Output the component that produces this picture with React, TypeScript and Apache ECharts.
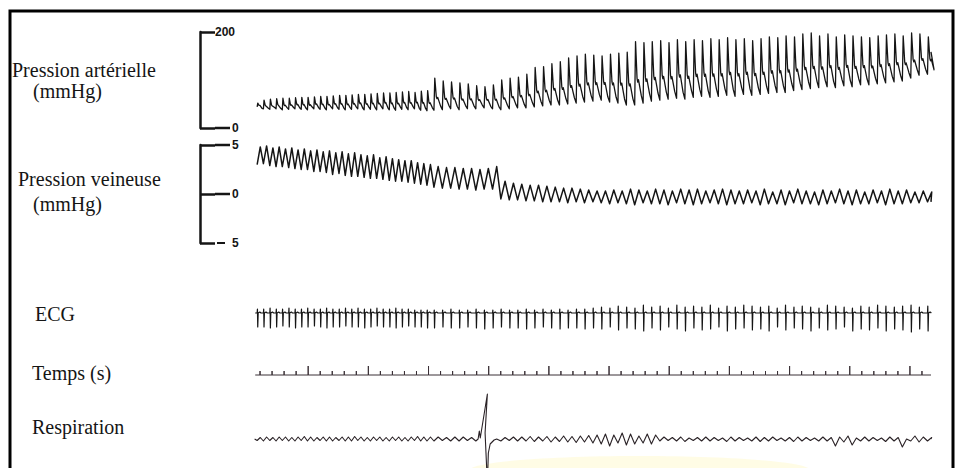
import React, { useEffect, useRef } from "react";
import * as echarts from "echarts";

// ---------- DATA (read from the recording) ----------
// Time axis in seconds (Temps track: small mark = 1 s, tall mark = 5 s)
const traceStart = 0.6;
const traceEnd = 56.75;
const timeMarks = [1,2,3,4,5,6,7,8,9,10,11,12,13,14,15,16,17,18,19,20,21,22,23,24,25,26,27,28,29,30,31,32,33,34,35,36,37,38,39,40,41,42,43,44,45,46,47,48,49,50,51,52,53,54,55,56];
const majorMarks = [5,10,15,20,25,30,35,40,45,50,55];
const smallMarkHeight = 4;
const majorMarkHeight = 9;

// Heart beat onsets (s)
const beatTimes = [
  0.76, 1.28, 1.81, 2.33, 2.85, 3.38, 3.90, 4.42, 4.94, 5.47, 5.99, 6.51, 7.03, 7.56, 8.08, 8.60, 9.12, 9.65, 10.17, 10.69, 11.21, 11.74, 12.26, 12.78, 13.30, 13.83, 14.35, 14.87,
  15.45, 16.15, 16.84, 17.54, 18.23, 18.93, 19.62, 20.32, 21.01, 21.71, 22.40, 23.10, 23.79, 24.49, 25.18, 25.88, 26.57, 27.27, 27.96, 28.66,
  29.35, 30.05, 30.74, 31.44, 32.13, 32.83, 33.52, 34.22, 34.91, 35.61, 36.30, 37.00, 37.69, 38.39, 39.08, 39.78, 40.47, 41.17, 41.86, 42.56,
  43.25, 43.95, 44.64, 45.34, 46.03, 46.73, 47.42, 48.12, 48.81, 49.51, 50.20, 50.90, 51.59, 52.29, 52.98, 53.68, 54.37, 55.07, 55.76, 56.46,
];

// Arterial pressure (mmHg), systolic / diastolic per beat
const arterialSys = [
  52, 58, 60, 61, 62, 62, 63, 64, 64, 65, 66, 66, 67, 68, 68, 69, 70, 70, 71, 72, 73, 73, 74, 75, 76, 74, 77, 78,
  104, 98, 96, 94, 92, 88, 86, 90, 100, 104, 106, 112, 126, 128, 134, 138, 146, 150, 154, 152,
  150, 154, 156, 158, 180, 178, 180, 182, 178, 184, 180, 184, 182, 186, 184, 188, 184, 186, 182, 186,
  190, 188, 192, 190, 196, 198, 192, 196, 190, 194, 192, 190, 188, 192, 194, 196, 192, 198, 196, 190,
];
const arterialDia = [
  44, 40, 39, 40, 38, 39, 40, 39, 38, 40, 39, 38, 40, 39, 38, 39, 40, 38, 39, 38, 40, 38, 37, 39, 38, 40, 37, 36,
  37, 38, 40, 38, 40, 40, 42, 40, 38, 40, 42, 42, 44, 46, 48, 48, 50, 52, 54, 56,
  58, 54, 52, 48, 48, 52, 56, 58, 60, 62, 60, 64, 66, 64, 66, 68, 66, 70, 68, 70,
  72, 74, 74, 78, 80, 82, 84, 86, 84, 88, 86, 90, 90, 92, 94, 96, 98, 104, 110, 112,
];

// Venous pressure (mmHg), high / low per beat
const venousHigh = [
  4.8, 4.9, 4.7, 4.8, 4.6, 4.7, 4.5, 4.6, 4.4, 4.5, 4.3, 4.4, 4.2, 4.3, 4.1, 4.2, 4.0, 3.9, 4.0, 3.7, 3.8, 3.6, 3.5, 3.4, 3.4, 3.2, 3.1, 3.0,
  2.8, 2.7, 2.7, 2.6, 2.6, 2.5, 2.6, 2.8, 1.3, 1.1, 1.0, 0.9, 0.9, 0.8, 0.7, 0.6, 0.6, 0.5, 0.4, 0.3,
  0.3, 0.4, 0.3, 0.5, 0.4, 0.3, 0.5, 0.4, 0.3, 0.5, 0.4, 0.5, 0.3, 0.4, 0.5, 0.4, 0.3, 0.4, 0.3, 0.5,
  0.2, 0.4, 0.3, 0.5, 0.3, 0.2, 0.4, 0.3, 0.5, 0.3, 0.4, 0.2, 0.4, 0.3, 0.5, 0.3, 0.4, 0.2, 0.3, 0.2,
];
const venousLow = [
  3.0, 3.1, 2.9, 2.8, 2.8, 2.7, 2.6, 2.5, 2.5, 2.3, 2.3, 2.2, 2.0, 2.1, 1.9, 1.8, 1.8, 1.7, 1.6, 1.6, 1.5, 1.4, 1.3, 1.3, 1.2, 1.1, 1.0, 0.9,
  0.7, 0.6, 0.6, 0.5, 0.5, 0.4, 0.5, 0.5, -0.5, -0.6, -0.6, -0.7, -0.7, -0.8, -0.8, -0.8, -0.9, -0.8, -0.9, -0.8,
  -0.9, -1.0, -0.9, -1.0, -1.1, -0.9, -1.0, -1.0, -1.1, -0.9, -1.0, -1.1, -1.0, -0.9, -1.0, -1.1, -1.0, -1.0, -0.9, -1.1,
  -1.0, -1.0, -1.1, -0.9, -1.0, -1.0, -1.1, -1.0, -0.9, -1.0, -1.1, -1.0, -1.0, -0.9, -1.1, -1.0, -1.0, -0.9, -0.9, -0.8,
];

// ECG deflections per beat (px-scaled units): R up, S down
const ecgR = [
  4, 4, 5, 4, 4, 5, 4, 4, 5, 4, 4, 5, 4, 4, 5, 4, 5, 4, 4, 5, 4, 4, 5, 4, 4, 3, 3, 3,
  3, 3, 4, 3, 3, 4, 3, 3, 4, 3, 3, 4, 3, 4, 3, 4, 3, 4, 4, 5,
  6, 5, 7, 6, 5, 8, 6, 7, 5, 8, 6, 7, 6, 8, 5, 7, 6, 8, 7, 6,
  7, 5, 8, 6, 7, 6, 5, 8, 7, 6, 5, 7, 6, 8, 7, 6, 7, 8, 6, 7,
];
const ecgS = [
  -14, -14, -15, -14, -13, -14, -15, -14, -14, -13, -14, -15, -14, -14, -13, -14, -14, -15, -14, -13, -14, -14, -15, -14, -13, -14, -14, -15,
  -15, -14, -15, -15, -14, -15, -16, -15, -14, -15, -15, -16, -15, -14, -15, -16, -15, -15, -16, -15,
  -16, -14, -17, -15, -16, -18, -15, -17, -14, -16, -18, -15, -17, -16, -14, -18, -16, -15, -17, -16,
  -18, -14, -17, -15, -16, -18, -15, -17, -16, -14, -18, -16, -17, -15, -18, -16, -17, -19, -16, -18,
];

// Respiration ripple per beat (px-scaled units)
const respHigh = [
  1.5, 2, 1.5, 2, 2, 1.5, 2, 2.5, 2, 1.5, 2, 2, 1.5, 2, 2, 2.5, 2, 1.5, 2, 2, 1.5, 2, 2, 1.5, 2, 2.5, 2, 2,
  2, 1.5, 2, 2, 1.5, 2, 0, 0, 1.5, 2, 2, 2.5, 2, 2.5, 2, 3, 2.5, 3, 3.5, 4,
  5, 4, 6, 5, 3, 5, 4, 2, 1.5, 2, 1, 1.5, 2, 1.5, 1, 2, 1.5, 1, 2, 1.5,
  2, 1, 1.5, 2, 1.5, 1, 2, 1.5, 2, 3, 1, 2, 1.5, 1, 2, 1.5, 0, 3, 2, 1.5,
];
const respLow = [
  -1.5, -2, -1.5, -2, -1.5, -2, -2, -1.5, -2, -2, -1.5, -2, -2, -1.5, -2, -2, -1.5, -2, -2, -1.5, -2, -2, -1.5, -2, -2, -1.5, -2, -2,
  -2, -1.5, -2, -2, -1.5, -2, 0, 0, -2, -1.5, -2, -2, -2.5, -2, -3, -2.5, -3, -3.5, -3, -4,
  -5, -7, -4, -6, -5, -4, -5, -2, -1.5, -2, -2.5, -1.5, -2, -2, -1.5, -2.5, -2, -1.5, -2, -2.5,
  -2, -1.5, -2, -2.5, -2, -1.5, -2, -2, -7, -3, -6, -2, -2, -1.5, -2.5, -2, -8, -2, -3, -2,
];
// Large respiratory artefact (pen excursion)
const respEventTimes = [19.12, 19.22, 19.30, 19.89, 19.70, 19.89, 19.97, 20.12, 20.45];
const respEventValues = [0, 8, 1, 45, 6, -45, -14, -5, -1];

// Labels
const trackLabels = ["Pression artérielle", "(mmHg)", "Pression veineuse", "(mmHg)", "ECG", "Temps (s)", "Respiration"];

// ---------- BUILD WAVEFORMS ----------
const nBeats = beatTimes.length;
const periodOf = (i: number) =>
  i < nBeats - 1 ? beatTimes[i + 1] - beatTimes[i] : beatTimes[i] - beatTimes[i - 1];

function buildArterial() {
  const pts: number[][] = [];
  for (let i = 0; i < nBeats; i++) {
    const t = beatTimes[i], P = periodOf(i);
    const d = arterialDia[i], s = arterialSys[i], a = s - d;
    const dn = i < nBeats - 1 ? arterialDia[i + 1] : d;
    pts.push([t, d], [t + 0.1 * P, s], [t + 0.28 * P, d + 0.42 * a], [t + 0.36 * P, d + 0.36 * a],
      [t + 0.45 * P, d + 0.4 * a], [t + 0.78 * P, dn + 0.12 * a]);
  }
  pts.push([traceEnd, arterialDia[nBeats - 1] + 0.6 * (arterialSys[nBeats - 1] - arterialDia[nBeats - 1])]);
  return pts;
}
function buildVenous() {
  const pts: number[][] = [];
  for (let i = 0; i < nBeats; i++) {
    const t = beatTimes[i], P = periodOf(i);
    pts.push([t, venousLow[i]], [t + 0.5 * P, venousHigh[i]]);
  }
  pts.push([traceEnd, venousLow[nBeats - 1]]);
  return pts;
}
function buildEcg() {
  const pts: number[][] = [[traceStart, 0]];
  for (let i = 0; i < nBeats; i++) {
    const t = beatTimes[i];
    pts.push([t, 0], [t + 0.025, ecgR[i]], [t + 0.05, ecgS[i]], [t + 0.085, 0], [t + 0.22, 1], [t + 0.32, 0]);
  }
  pts.push([traceEnd, 0]);
  return pts;
}
function buildTime() {
  const pts: number[][] = [[traceStart, 0]];
  timeMarks.forEach((m) => {
    const h = majorMarks.indexOf(m) >= 0 ? majorMarkHeight : smallMarkHeight;
    pts.push([m, 0], [m, h], [m, 0]);
  });
  pts.push([traceEnd, 0]);
  return pts;
}
function buildResp() {
  const ws = respEventTimes[0], we = respEventTimes[respEventTimes.length - 1];
  const before: number[][] = [[0.55, 0]];
  const after: number[][] = [];
  for (let i = 0; i < nBeats; i++) {
    const t = beatTimes[i], P = periodOf(i);
    [[t, respLow[i]], [t + 0.5 * P, respHigh[i]]].forEach((p) => {
      if (p[0] < ws) before.push(p);
      else if (p[0] > we) after.push(p);
    });
  }
  const ev = respEventTimes.map((t, k) => [t, respEventValues[k]]);
  return [...before, ...ev, ...after, [traceEnd, 0]];
}

const INK = "#151515";
const SERIF = '"Liberation Serif", "Times New Roman", serif';
const SANS = '"Liberation Sans", Arial, sans-serif';

export default function App() {
  const ref = useRef<HTMLDivElement>(null);
  useEffect(() => {
    if (!ref.current) return;
    const chart = echarts.init(ref.current, undefined, { renderer: "svg" });
    const traceGrids = [
      { top: 32, height: 96 },
      { top: 145, height: 98 },
      { top: 298, height: 35 },
      { top: 360, height: 20 },
      { top: 380, height: 88 },
    ].map((g) => ({ ...g, left: 248, right: 29, containLabel: false }));
    // scale-bracket grids: their right edge is the bracket line (x = 200)
    const bracketGrids = [
      { top: 32, height: 96, left: 150, width: 50, containLabel: false },
      { top: 145, height: 98, left: 150, width: 50, containLabel: false },
    ];
    const grids = [...traceGrids, ...bracketGrids];
    const xAxes = grids.map((_, i) => ({ gridIndex: i, type: "value", min: 0, max: 57, show: false }));
    const richTxt = { fontFamily: SANS, fontWeight: "bold", fontSize: 12, color: INK };
    const rich = {
      t: richTxt,
      bar: { width: 15, height: 2.5, backgroundColor: INK },
      dash: { width: 8, height: 2, backgroundColor: INK },
      g: { width: 2 },
      g2: { width: 7 },
    };
    const bracket = {
      position: "right",
      axisLine: { show: true, onZero: false, lineStyle: { color: INK, width: 2.5 } },
      axisTick: { show: true, inside: false, length: 15, lineStyle: { color: INK, width: 2.5 } },
      splitLine: { show: false },
    };
    const yAxes: any[] = [
      { gridIndex: 0, type: "value", min: 0, max: 200, show: false },
      { gridIndex: 1, type: "value", min: -5, max: 5, show: false },
      { gridIndex: 2, type: "value", min: -20, max: 15, show: false },
      { gridIndex: 3, type: "value", min: -5, max: 15, show: false },
      { gridIndex: 4, type: "value", min: -29, max: 59, show: false },
      {
        ...bracket, gridIndex: 5, type: "value", min: 0, max: 200, interval: 200,
        axisLabel: { margin: 15, rich, formatter: (v: number) => (v === 200 ? "{t|200}" : "{bar|}{g|}{t|0}") },
      },
      {
        ...bracket, gridIndex: 6, type: "value", min: -5, max: 5, interval: 5,
        axisLabel: {
          margin: 15, rich,
          formatter: (v: number) => (v === 5 ? "{bar|}{g|}{t|5}" : v === 0 ? "{bar|}{g|}{t|0}" : "{g|}{dash|}{g2|}{t|5}"),
        },
      },
    ];
    const line = (name: string, idx: number, data: number[][], width: number, color = INK) => ({
      name, type: "line", xAxisIndex: idx, yAxisIndex: idx, data, showSymbol: false, symbol: "none",
      clip: false, silent: true, lineStyle: { color, width, join: "round" },
    });
    const labelPos = [
      [12, 70], [33, 91], [18, 179], [33, 204], [35, 314], [32, 373], [32, 427],
    ];
    chart.setOption({
      animation: false,
      backgroundColor: "#ffffff",
      grid: grids,
      xAxis: xAxes,
      yAxis: yAxes,
      series: [
        line("Pression artérielle", 0, buildArterial(), 1.3),
        line("Pression veineuse", 1, buildVenous(), 1.5),
        line("ECG", 2, buildEcg(), 1.2),
        line("Temps", 3, buildTime(), 1, "#3a3036"),
        line("Respiration", 4, buildResp(), 1.1, "#2a2226"),
      ],
      graphic: [
        {
          type: "ellipse", z: -1, silent: true,
          shape: { cx: 640, cy: 470, rx: 170, ry: 14 },
          style: { fill: "rgba(255,248,190,0.4)" },
        },
        {
          type: "rect", silent: true, z: 10,
          shape: { x: 10, y: 11, width: 943, height: 480 },
          style: { fill: "none", stroke: "#000", lineWidth: 3 },
        },
        ...trackLabels.map((txt, i) => ({
          type: "text", silent: true, x: labelPos[i][0], y: labelPos[i][1],
          style: { text: txt, font: `20px ${SERIF}`, fill: INK, align: "left", verticalAlign: "middle" },
        })),
      ],
    });
    return () => chart.dispose();
  }, []);
  return <div ref={ref} style={{ position: "fixed", left: 0, top: 0, width: 963, height: 468, background: "#fff" }} />;
}
